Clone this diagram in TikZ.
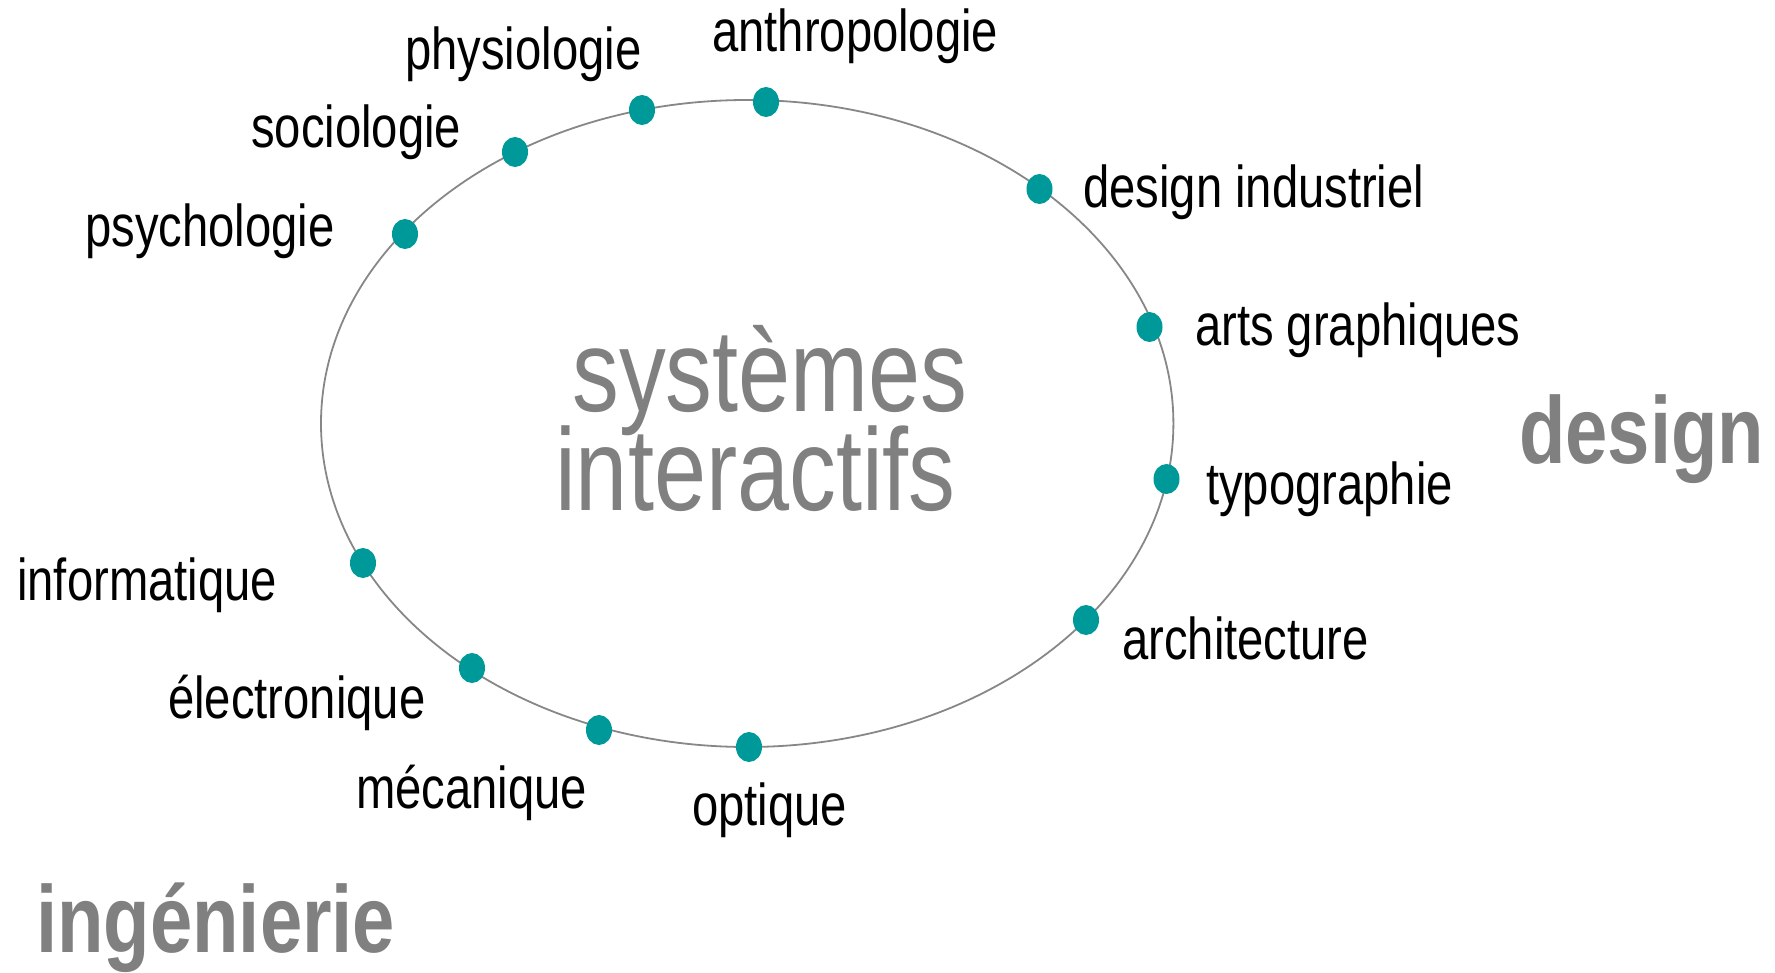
\documentclass[tikz,border=0pt]{standalone}
\usepackage{fontspec}
\usetikzlibrary{shapes.geometric}
\setmainfont{Liberation Sans}
\newfontfamily\narrowsans[FakeStretch=0.8]{Liberation Sans}
\definecolor{dotteal}{RGB}{0,153,153}
\definecolor{midgray}{RGB}{128,128,128}
\definecolor{ringgray}{RGB}{135,135,135}

\begin{document}
\begin{tikzpicture}[x=1pt,y=-1pt,
  field/.style={anchor=base west, inner sep=0pt,
    font=\narrowsans\fontsize{59}{60}\selectfont, text=black},
  hub/.style={anchor=base west, inner sep=0pt,
    font=\narrowsans\fontsize{117}{117}\selectfont, text=midgray},
  sphere/.style={anchor=base west, inner sep=0pt,
    font=\narrowsans\bfseries\fontsize{95}{95}\selectfont, text=midgray},
  knob/.style={ellipse, fill=dotteal, minimum width=26pt, minimum height=30pt, inner sep=0pt}]

\useasboundingbox (0,0) rectangle (1775,973);

% ring
\node (ring) at (747.2,423.5) [ellipse, draw=ringgray, line width=1.8pt,
  minimum width=852.4pt, minimum height=647pt, inner sep=0pt] {};

% central title
\node[hub] (t1) at (572,412) {systèmes};
\node[hub] (t2) at (555,510) {interactifs};

% disciplines: dots on the ring
\node[knob] (d-anth) at (766,102) {};
\node[knob] (d-phys) at (642,110) {};
\node[knob] (d-soc)  at (515,152) {};
\node[knob] (d-psy)  at (405,234) {};
\node[knob] (d-di)   at (1039.5,189) {};
\node[knob] (d-ag)   at (1149.5,327) {};
\node[knob] (d-typo) at (1166.5,479) {};
\node[knob] (d-arch) at (1086,620) {};
\node[knob] (d-info) at (363,563) {};
\node[knob] (d-elec) at (472,668) {};
\node[knob] (d-meca) at (599,730) {};
\node[knob] (d-opt)  at (749,747) {};

% discipline labels
\node[field] (l-anth) at (712,52)   {anthropologie};
\node[field] (l-phys) at (405,70)   {physiologie};
\node[field] (l-soc)  at (251,148)  {sociologie};
\node[field] (l-psy)  at (85,247)   {psychologie};
\node[field] (l-di)   at (1083,208) {design industriel};
\node[field] (l-ag)   at (1195,346) {arts graphiques};
\node[field] (l-typo) at (1206,504) {typographie};
\node[field] (l-arch) at (1122,659) {architecture};
\node[field] (l-info) at (17,600)   {informatique};
\node[field] (l-elec) at (168,718)  {électronique};
\node[field] (l-meca) at (356,808)  {mécanique};
\node[field] (l-opt)  at (692,825)  {optique};

% domains
\node[sphere] (design) at (1519,463) {design};
\node[sphere] (inge)   at (36,952)   {ingénierie};
\end{tikzpicture}
\end{document}
